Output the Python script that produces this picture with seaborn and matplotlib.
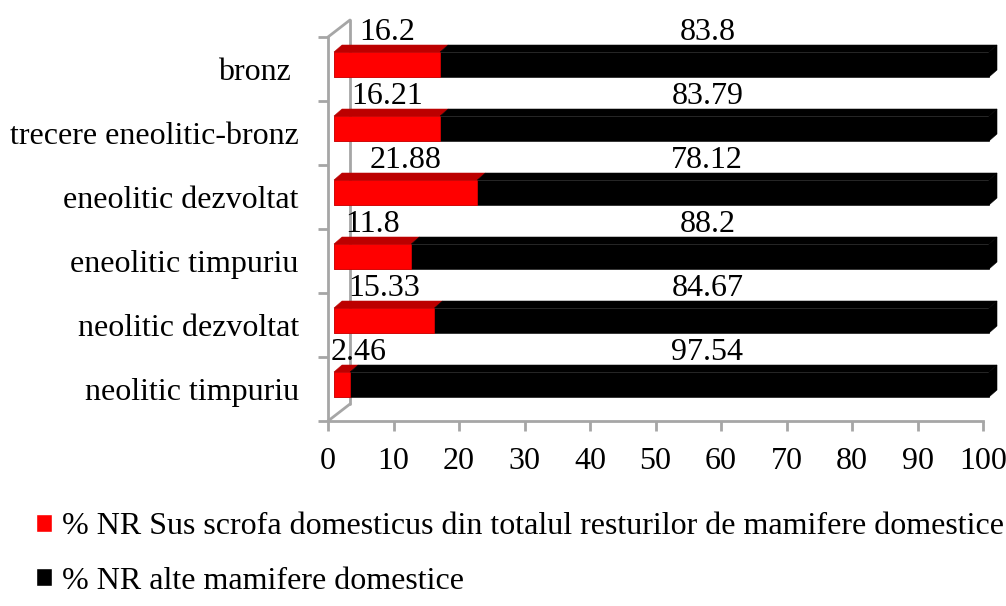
import numpy as np
import pandas as pd
import matplotlib
matplotlib.use('Agg')
import matplotlib.pyplot as plt
import seaborn as sns
from matplotlib.patches import Patch, Polygon
from matplotlib.transforms import ScaledTranslation, offset_copy

perioade = ["bronz ", "trecere eneolitic-bronz", "eneolitic dezvoltat",
            "eneolitic timpuriu", "neolitic dezvoltat", "neolitic timpuriu"]
sus = [16.2, 16.21, 21.88, 11.8, 15.33, 2.46]
alte = [83.8, 83.79, 78.12, 88.2, 84.67, 97.54]
serie_sus = "% NR Sus scrofa domesticus din totalul resturilor de mamifere domestice"
serie_alte = "% NR alte mamifere domestice"

df = pd.DataFrame({'perioada': perioade, 'sus': sus, 'alte': alte})
df['total'] = df['sus'] + df['alte']

sns.set_theme(style='white')
plt.rcParams['font.family'] = ['Liberation Serif', 'DejaVu Serif']
plt.rcParams['text.color'] = 'black'
plt.rcParams['xtick.labelcolor'] = 'black'
plt.rcParams['ytick.labelcolor'] = 'black'

gri = '#A6A6A6'
fs = 23

fig = plt.figure(figsize=(10.06, 6.06), dpi=100)
ax = fig.add_axes([328/1006, 1-421/606, (983-328)/1006, (421-37)/606])
ax.patch.set_visible(False)

# bare stivuite: negru = total, rosu deasupra
sns.barplot(data=df, x='total', y='perioada', color='black', orient='h', width=0.39,
            saturation=1, errorbar=None, ax=ax)
sns.barplot(data=df, x='sus', y='perioada', color='red', orient='h', width=0.39,
            saturation=1, errorbar=None, ax=ax)

ax.set_xlim(0, 100)
ax.set_ylim(5.5, -0.5)

# bara din fata e putin deplasata (efect 3D ca in Excel)
bar_tr = ax.transData + ScaledTranslation(6/100, 4.5/100, fig.dpi_scale_trans)
for p in ax.patches:
    p.set_transform(bar_tr)
    p.set_clip_on(False)
    p.set_edgecolor(p.get_facecolor())
    p.set_linewidth(0.4)

# fetele de sus ale barelor
sx = ax.bbox.width / 100
sy = ax.bbox.height / 6
dx = 8 / sx
dy = 7 / sy
h = 0.39 / 2
for i in range(len(perioade)):
    tot = sus[i] + alte[i]
    for x0, x1, c in [(0, sus[i], '#BC0000'), (sus[i], tot, '#000000')]:
        top = Polygon([(x0, i - h), (x1, i - h), (x1 + dx, i - h - dy), (x0 + dx, i - h - dy)],
                      closed=True, facecolor=c, edgecolor=c, lw=0.4, transform=bar_tr, clip_on=False)
        ax.add_patch(top)
    side = Polygon([(tot, i - h), (tot + dx, i - h - dy), (tot + dx, i + h - dy), (tot, i + h)],
                   closed=True, facecolor='black', edgecolor='black', lw=0.4, transform=bar_tr, clip_on=False)
    ax.add_patch(side)

# etichete valori (cele negre stau aliniate pe o coloana, ca in original)
label_tr = ax.transData + ScaledTranslation(6/100, (4.5 + 32)/100, fig.dpi_scale_trans)
x_negru = np.mean([s + a / 2 for s, a in zip(sus, alte)])
etich_rosii = []
for i in range(len(perioade)):
    t = ax.text(sus[i] / 2, i, f"{sus[i]:g}", transform=label_tr, ha='center', va='center', fontsize=fs)
    etich_rosii.append(t)
    ax.text(x_negru, i, f"{alte[i]:g}", transform=label_tr, ha='center', va='center', fontsize=fs)

# axe
ax.set_xlabel('')
ax.set_ylabel('')
ax.set_xticks(range(0, 101, 10))
ax.set_yticks(np.arange(-0.5, 6, 1), labels=[''] * 7)
ax.set_yticks(range(6), labels=perioade, minor=True)
ax.tick_params(axis='x', bottom=True, length=7, width=2, color=gri, labelsize=fs, pad=12)
ax.tick_params(axis='y', which='major', left=True, length=7, width=2, color=gri)
ax.tick_params(axis='y', which='minor', left=True, length=0, labelsize=fs, pad=21)
for s in ['top', 'right']:
    ax.spines[s].set_visible(False)
for s in ['left', 'bottom']:
    ax.spines[s].set_color(gri)
    ax.spines[s].set_linewidth(2)

# peretele din spate
back_tr = offset_copy(ax.transAxes, fig=fig, x=22, y=17, units='dots')
ax.plot([0, 0], [0, 1], transform=back_tr, color=gri, lw=2, zorder=0.5, clip_on=False)
for yy in [0, 1]:
    ax.annotate('', xy=(0, yy), xycoords=back_tr, xytext=(0, yy), textcoords='axes fraction',
                arrowprops=dict(arrowstyle='-', color=gri, lw=2, shrinkA=0, shrinkB=0))

handles = [Patch(facecolor='red'), Patch(facecolor='black')]
fig.legend(handles, [serie_sus, serie_alte], loc='upper left', bbox_to_anchor=(36/1006, 1-512/606),
           frameon=False, fontsize=fs, handlelength=0.5, handleheight=0.5, handletextpad=0.3,
           labelspacing=0.8, borderaxespad=0, borderpad=0)

# eticheta prea din stanga se muta in interiorul ariei graficului
fig.canvas.draw()
rend = fig.canvas.get_renderer()
for t in etich_rosii:
    ext = t.get_window_extent(rend)
    if ext.x0 < ax.bbox.x0 + 3:
        t.set_x(t.get_position()[0] + (ax.bbox.x0 + 3 - ext.x0) / sx)

fig.savefig('out.png', dpi=100)
